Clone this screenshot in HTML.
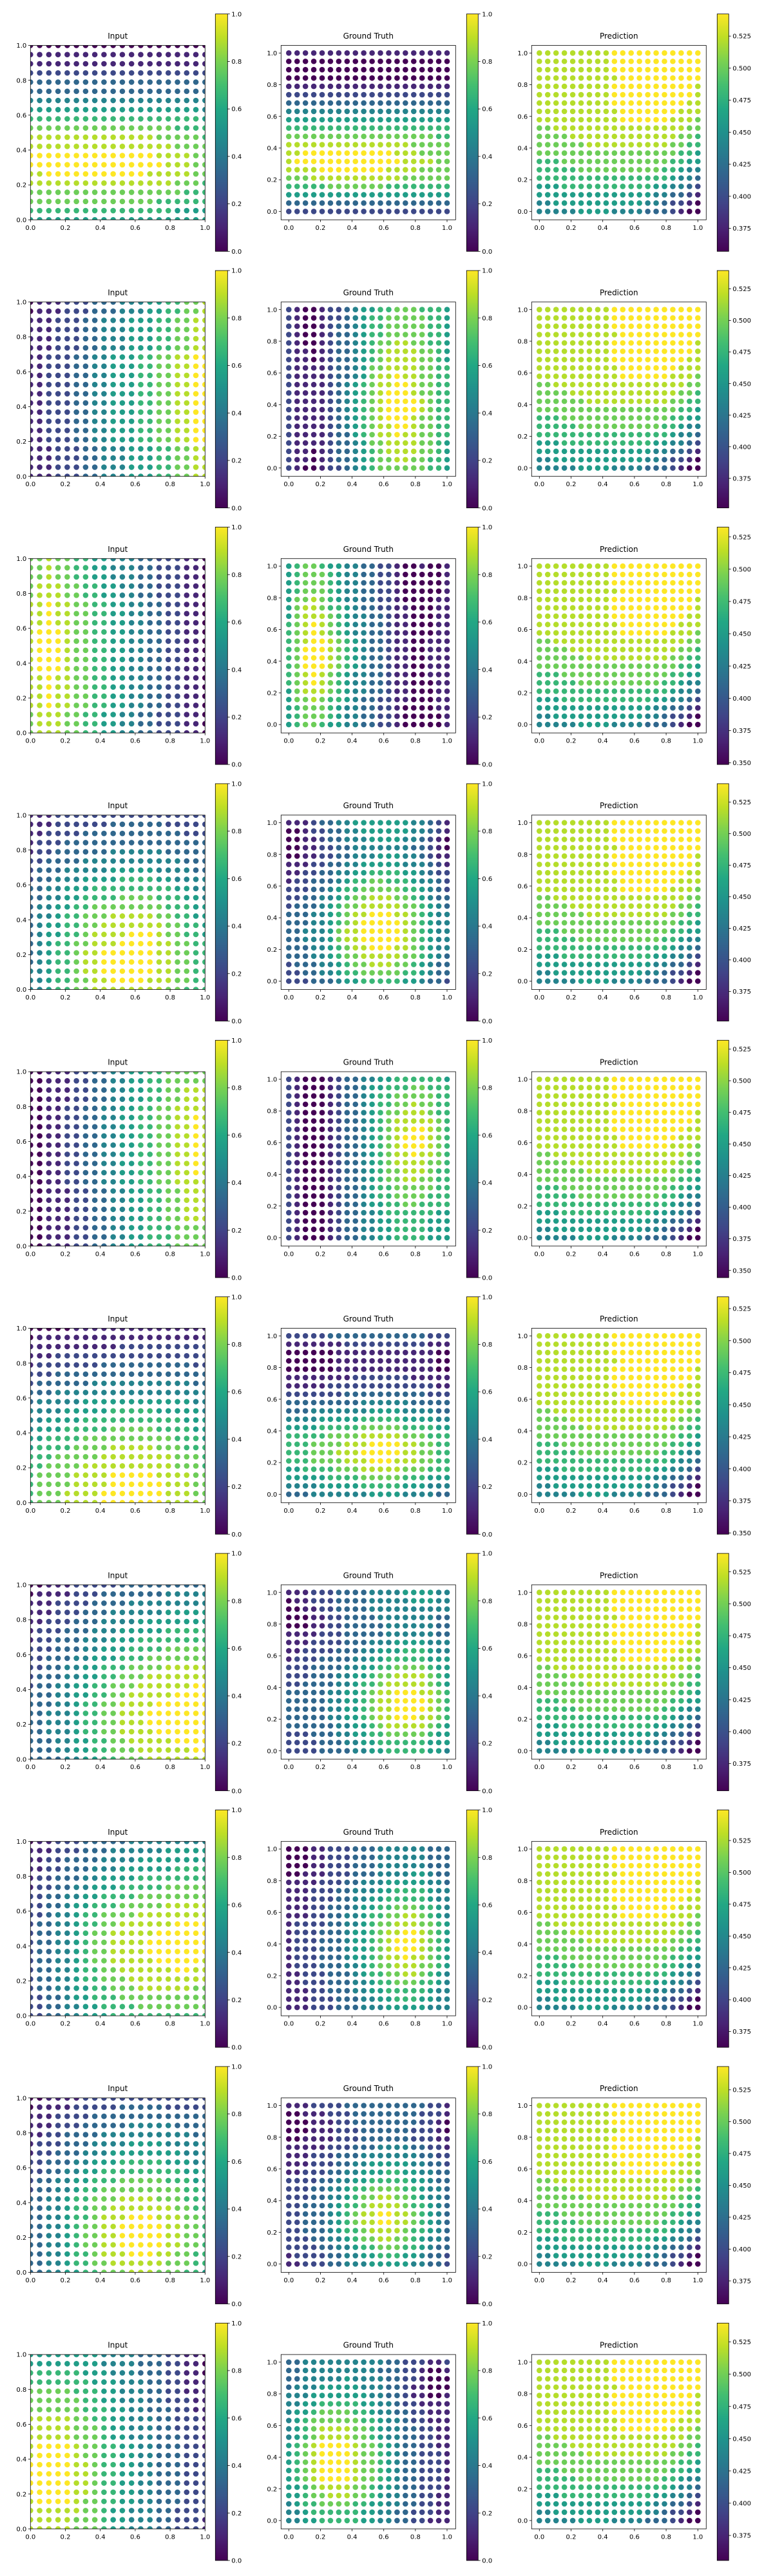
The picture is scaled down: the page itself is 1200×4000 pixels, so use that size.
<!DOCTYPE html>
<html><head><meta charset="utf-8"><style>
html,body{margin:0;padding:0;background:#fff;width:1200px;height:4000px;overflow:hidden}
svg{display:block}
text{font-family:"DejaVu Sans","Liberation Sans",sans-serif;fill:#000}
</style></head><body>
<svg id="fig" width="1200" height="4000" viewBox="0 0 1200 4000" xmlns="http://www.w3.org/2000/svg"></svg>
<script>
// ---- DATA (digits 0-9 -> normalised colour level; row 0 = y 1.0 top, col 0 = x 0.0) ----
const inputGrids = [
["00000000000000000000","11111111111111111111","11111111111111111111","22222222222222222222","33333333333333333333","33333333333333333333","44444444444444444444","55555555555555555554","66666666666666666665","77777777777777776666","88888888888888777776","88888888888888887777","99999999999999888877","99999999999999988877","88999999999998888877","88888888888888887776","77777777777777777666","77777777777777666666","66666666666666665555","55555555555555555555"],
["01112223334445566778","01112223334445566778","11122233444555667788","11122233444555667788","11122233444555667788","11122233444555667788","11222334455566778899","11222334455566778899","11222334455566778899","11222334455566778899","11222334455566778899","11222334455566778899","11222334455566778899","11222334455566778899","11222334455566778899","11222334455566778899","11122233444555667788","11122233444555667788","11122233444555667788","11122233444555667788"],
["77877665544433222110","77877665544433222110","77877665544433222110","78887766554433222110","78887766554433222110","88988776655443322110","88988776655443322110","88988776655443322110","89998776655443322110","89998776655443322110","89998776655443322110","89998776655443322110","89998776655443322110","88988776655443322110","88988776655443322110","88988776655443322110","88988776655443322110","78887766554433222110","78887766554433222110","78887766554433222110"],
["11122222222222222222","11122222233333322222","11222233333333333222","12223333333333333333","12233333344444433333","22333344444444444333","23334444455555444433","23344455556666554444","33445556666666665544","33445566667777666554","34455667777777766655","34456677788888776655","34556677888888877665","34556678888999877665","34566778889999887766","34566788999999887766","34566788999999887766","44566788999999887766","44566778899998887766","44566778888888877666"],
["00111223344556677777","00111223344556677777","00111223344556677888","00111223344556677888","00112233445566778888","00112233445566778898","00112233445566778898","00112233445566778898","00112233445566778898","00112233445566778898","00112233445566778898","00112233445566778898","00112233445566778888","00111223344556677888","00111223344556677888","00111223344556677888","00111223344556677888","00111223344556667777","00111223344556667777","00111223344556667777"],
["00000111111111111111","01111111111111111111","11111111112222222222","11122222222222222222","12222222333333333322","22233333333333333333","23333334444444444433","33344444444444444444","34444455555555555544","44445555566666555554","44555566666666666555","45556666677777666655","55666677777777776665","56666777788888777666","66677777888888887776","66777788888888887776","67777888899999888877","67777888899999988877","67778888999999988877","67778888999999988887"],
["00111222223333333333","01111222333333344444","11122223333444444444","11122233344444455555","11222333444455555555","12223334445555566666","12233344455566666666","22233344555666677777","22333445556667777777","22334455666777788888","23334455667778888888","23344556677788888899","33344556677888889999","33344566778888999999","33444566778889999999","33444566778889999999","33444566778888999999","33344556677888889999","33344556677788888899","33334455667778888888"],
["01122233333444444444","11122233344444455555","11223333444455555555","11223334445555556666","12233344555566666666","12233445556666677777","22334455666677777777","22334556667777788888","22344566777788888888","23344566778888889999","23344567788888999999","23344567788889999999","23344567788889999999","23344567788888999998","23344566778888889988","23344566777888888888","23344556677788888877","22334556667777777777","22334455666677777777","22334455566666666666"],
["00111122222222222222","01111222223333322222","11122223333333333333","11122233333444443333","11223333444444444433","12223334444555544444","12233344455555555444","22333445556666655544","22334455666666666555","23344556667777766655","23344566777777777665","33445667778888777665","33445667788888887766","33445667888999888776","33445677889999988776","33445677889999988776","33445677889999988776","33445667888999887766","33445667788888877766","33445566777888777665"],
["55555555444433322110","55555555444433322110","66666655544433322110","66666665554443322111","77777666554443322111","77777766554443322211","77777766655443332211","88888776655444332221","88888777655444332221","88888777655444333221","89999877665544333221","89999877665544333222","99999887665544333222","99999887665544333222","99999887665544333222","99999887665544333222","89999877665544333222","88888877655444332222","88888777655444332221","88888777655444332221"]
];
const gtGrids = [
["11111111111111111111","00000000000000000000","00000000000000000000","00000000000000000000","11111111111111111111","22222222222222222222","33333333333333333333","44444444444444444444","55555555555555555555","66666666666666666666","77777777777777777766","88888888888888877777","88999999999998887777","89999999999999888877","88889999999988887777","77788888888888777777","66666777777766666666","55555555555555555555","33333333333333333333","22222222222222222222"],
["21001223455667776665","21001223456677777665","21001233456677777665","21001233456677777665","21001233456778877665","21101233456788887765","21101233456788887765","21111233457788887766","21111233457889887766","21111234567889987766","21111234567899987766","21111234567899998766","21111234567899998766","21111234567899987766","21111234567889987766","21111233567889887766","21111233457788887765","21101233456788887765","21101233456778877665","21001223456777777665"],
["56776554433221001001","56777654433221000001","56777654433221000001","56777654433221000001","57787654433221000011","57887665433221100011","57888765443321100011","67898765443321100011","67898765443321100011","67899876543321100111","67999876543321100111","67999876543321100111","67999876543321100111","67898765443321100111","67898765443321100011","57888765443321100011","57787665433221100011","56777654433221000011","56777654433221000001","56776554433221000001"],
["11123344555555544321","00122334455555544321","00112334445555443210","00112233444444433210","00112233444555443211","11122334455555444321","11223344556666554322","12233345667766654432","22233456677777665432","22334456778887765433","23334567788888776543","33344567889998876544","33344567899999876544","33444578899999876544","33444578899999876544","33344567889998876544","33344567788888776543","23334456778887765433","22334456677777665433","22233345566666554332"],
["21000123344556666665","21000123345566677666","21000123345667777766","21000123345667787766","21000123345677888766","21000123345678888876","21000123345678899876","21000123345678999876","21000123345678999876","21000123345678898876","21000123345678888776","21000123345677888766","21000123345677887766","21000123345667777766","21000123345667777666","21000123345566776666","21000123344566666655","21000123344556666555","21000123344556666555","21000123344556666555"],
["22222333333333333222","11111112222222222111","00000011111111111100","00000011111111111100","00000011111111111100","11111111222222211111","11111222222222222211","22222223333333333222","33333333344444433333","33344444445555444433","44445555566666555544","55556666677777666655","66666777788888777666","66677778889999887766","66677788899999887766","66677778889998887766","55666677788888777666","55555666677777666555","44445555566666555444","33344444445555444433"],
["11122233334444555544","01122233334444455544","00112233334444444444","00011223333444444433","00011223333344444433","11112223333344444433","11122223334445555444","11222233344555666544","12223333445566666555","22233334455667777655","22233344556778888765","22333344566788888765","33333445567889998876","33333445567889999876","33333445567889999876","33333445567889998876","33333344556788888765","22233344556677777655","22223334455666666555","22223333445566666554"],
["00011222333444444333","00011222333444444333","00011222333444444333","00111222333444455433","11112223344455555443","11122233444556666544","11122233445566666544","11122333455667776654","11122334456677887654","12222334456778887765","12223334556788998765","12223334556789998765","12223334556789998765","12223334556788988765","12223334456778887765","11222333456677887654","11222333445667776654","11122333445566666544","11122233344556665544","11122233344455555444"],
["11122223333333333221","00111222333333332221","00011122333333332210","00011122233333322210","00111122233333322211","11111222333444433221","11122233344444443322","11122233445555544332","11222334455566554433","22223344556666655433","22233445667777665443","22233445677887765443","22333456678888766543","22333456788998876543","22333456788998876543","22333456678888766543","22233445677887765443","22223344566777665433","12222334455666554332","11222334445555544332"],
["33444444444433222112","33444444444333221001","33444445444433221000","34445555544433211000","44455555554433211001","44556666655443221111","45567777665443322111","45677777766544322111","45678888776544332211","45678888776544332211","56789999877654332211","56789999877654332221","56789999877654332221","56789999877654332221","56789999877654332221","55678888776554332221","55677888776544332211","45667777665544332211","44566666655443322211","44556666655443322111"]
];
const predGrid = ["88888888899999999999","88888888899999999999","88888888899999999999","88888888889999999999","88888888899999999998","88888888899999999998","88888888899999999988","88888888889999999888","88888888889999998887","77888888888888888877","77778888888888888776","77777788888888887766","77777777777777777665","66677777777777776655","66666777777777766544","66666666666666665443","55566666666666554432","55555555555555443321","44555555555554432210","44444555544443332100"];
const predVmin = [0.357,0.3516,0.3487,0.3516,0.3443,0.349,0.3538,0.3626,0.357,0.3556];
const predVmax = [0.5423,0.5395,0.5326,0.5395,0.532,0.5342,0.5394,0.549,0.5432,0.5396];
const unitTicks = [0,0.2,0.4,0.6,0.8,1.0];
const unitTickLabels = ["0.0","0.2","0.4","0.6","0.8","1.0"];
const predTickValues = [0.350,0.375,0.400,0.425,0.450,0.475,0.500,0.525];
const predTickLabels = ["0.350","0.375","0.400","0.425","0.450","0.475","0.500","0.525"];
const panelTitles = ["Input","Ground Truth","Prediction"];

// ---- rendering ----
const NS="http://www.w3.org/2000/svg";
const svg=document.getElementById('fig');
const VIR=[[68,1,84],[72,35,116],[64,67,135],[52,94,141],[41,120,142],[32,144,140],[34,167,132],[68,190,112],[121,209,81],[189,222,38],[253,231,37]];
function vcol(t){t=Math.max(0,Math.min(1,t));const s=t*10;const i=Math.min(9,Math.floor(s));const f=s-i;const a=VIR[i],b=VIR[i+1];
 return 'rgb('+Math.round(a[0]+(b[0]-a[0])*f)+','+Math.round(a[1]+(b[1]-a[1])*f)+','+Math.round(a[2]+(b[2]-a[2])*f)+')';}
function el(tag,attrs,parent){const e=document.createElementNS(NS,tag);for(const k in attrs)e.setAttribute(k,attrs[k]);(parent||svg).appendChild(e);return e;}
function txt(s,attrs,parent){const t=el('text',attrs,parent);t.textContent=s;return t;}

// gradient
const defs=el('defs',{});
const lg=el('linearGradient',{id:'vir',x1:'0',y1:'1',x2:'0',y2:'0'},defs);
for(let i=0;i<=20;i++){el('stop',{offset:(i/20),'stop-color':vcol(i/20)},lg);}

const ROW=398.4;
const AX_T=70.5, AX_B=341.3, CB_T=21.7, CB_B=390.3, TITLE_Y=60;
const panels=[
 {ax0:47.3,ax1:318.3,dx0:47.3,dx1:318.3,dyTop:AX_T,dyBot:AX_B,cb0:334.3,cb1:353.3,clip:true},
 {ax0:436.3,ax1:707.3,dx0:448.3,dx1:694,dyTop:82.3,dyBot:328.3,cb0:724.3,cb1:742.3,clip:false},
 {ax0:825.3,ax1:1096.3,dx0:837.3,dx1:1083.3,dyTop:82.3,dyBot:328.3,cb0:1113.3,cb1:1131.3,clip:false}
];

for(let r=0;r<10;r++){
 const base=r*ROW;
 const rowG=el('g',{});
 
 
 for(let p=0;p<3;p++){
  const P=panels[p];
  const g=el('g',{},rowG);
  
  
  const top=base+AX_T, bot=base+AX_B;
  const xs=v=>P.dx0+(P.dx1-P.dx0)*v;
  const ys=v=>base+P.dyBot-(P.dyBot-P.dyTop)*v;
  const grid = p===0?inputGrids[r]:p===1?gtGrids[r]:predGrid;
  const clipId='c'+r+'_'+p;
  const cp=el('clipPath',{id:clipId},defs);
  el('rect',{x:P.ax0,y:top,width:P.ax1-P.ax0,height:bot-top},cp);
  const dots=el('g',{'clip-path':'url(#'+clipId+')'},g);
  
  
  for(let i=0;i<20;i++){for(let j=0;j<20;j++){
   const t=(+grid[i][j])/9;
   const c=el('circle',{cx:xs(j/19).toFixed(2),cy:ys(1-i/19).toFixed(2),r:4.3,fill:vcol(t)},dots);
   
   
  }}
  const frame=el('rect',{x:P.ax0,y:top,width:P.ax1-P.ax0,height:bot-top,fill:'none',stroke:'#000','stroke-width':0.8},g);
  
  
  // ticks
  for(let k=0;k<unitTicks.length;k++){
   const xv=xs(unitTicks[k]);
   el('line',{x1:xv,y1:bot,x2:xv,y2:bot+3.5,stroke:'#000','stroke-width':0.8},g);
   const tx=txt(unitTickLabels[k],{x:xv,y:bot+15.5,'font-size':'10px','text-anchor':'middle'},g);
   
   
   const yv=ys(unitTicks[k]);
   el('line',{x1:P.ax0,y1:yv,x2:P.ax0-3.5,y2:yv,stroke:'#000','stroke-width':0.8},g);
   const ty=txt(unitTickLabels[k],{x:P.ax0-6,y:yv+3.6,'font-size':'10px','text-anchor':'end'},g);
   
   
  }
  const tt=txt(panelTitles[p],{x:(P.ax0+P.ax1)/2,y:base+TITLE_Y,'font-size':'12px','text-anchor':'middle'},g);
  
  
  // colorbar
  const cbT=base+CB_T, cbB=base+CB_B;
  const cb=el('rect',{x:P.cb0,y:cbT,width:P.cb1-P.cb0,height:cbB-cbT,fill:'url(#vir)',stroke:'#000','stroke-width':0.8},g);
  
  
  let tv,tl,vmin,vmax;
  if(p<2){tv=unitTicks;tl=unitTickLabels;vmin=0;vmax=1;}
  else{tv=predTickValues;tl=predTickLabels;vmin=predVmin[r];vmax=predVmax[r];}
  for(let k=0;k<tv.length;k++){
   if(tv[k]<vmin-1e-9||tv[k]>vmax+1e-9)continue;
   const yv=cbB-(cbB-cbT)*(tv[k]-vmin)/(vmax-vmin);
   el('line',{x1:P.cb1,y1:yv,x2:P.cb1+3.5,y2:yv,stroke:'#000','stroke-width':0.8},g);
   const cl=txt(tl[k],{x:P.cb1+6,y:yv+3.6,'font-size':'10px'},g);
   
   
  }
 }
}
</script>
</body></html>
